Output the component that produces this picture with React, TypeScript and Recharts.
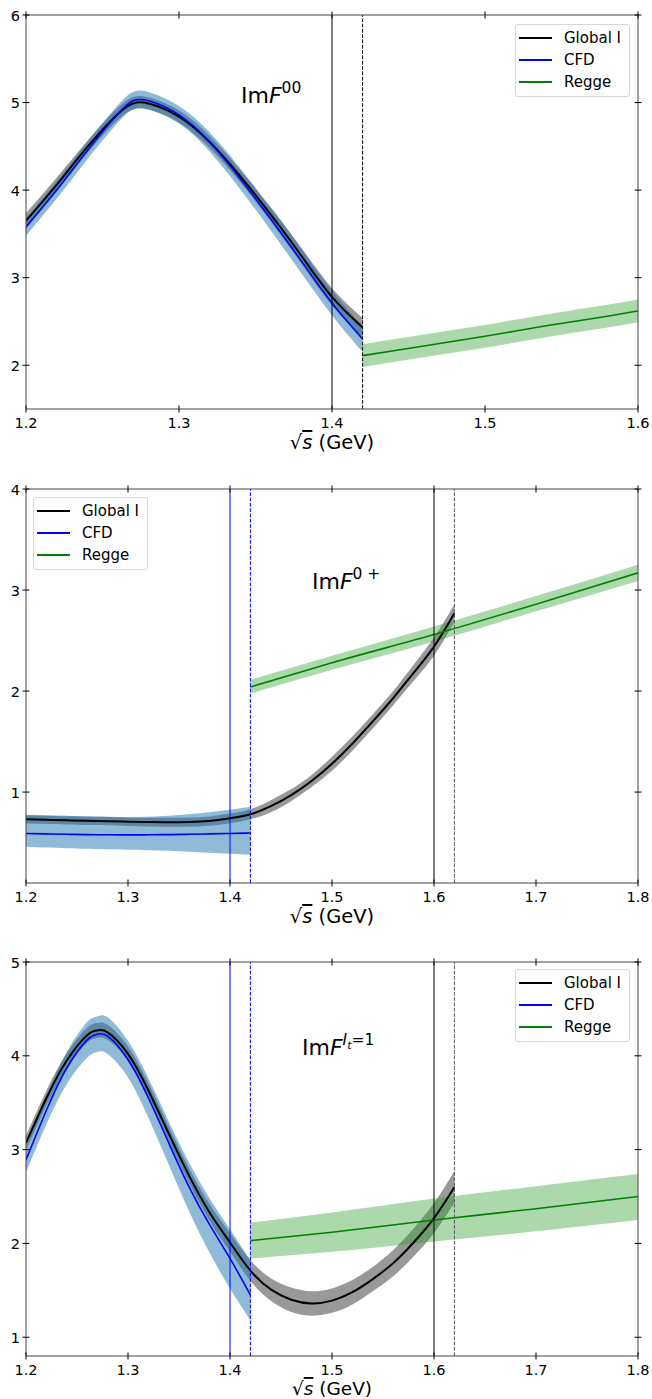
import React from "react";
import { ComposedChart, Area, Line, XAxis, YAxis, ReferenceLine, Legend } from "recharts";

// x grids (GeV)
const X_CFD = [1.2, 1.22, 1.24, 1.26, 1.27, 1.28, 1.3, 1.32, 1.34, 1.36, 1.38, 1.4, 1.42];
const X_GLOBAL = [...X_CFD, 1.44, 1.46, 1.48, 1.5, 1.52, 1.54, 1.56, 1.58, 1.6, 1.62];
const X_REGGE_00 = [1.42, 1.46, 1.5, 1.54, 1.58, 1.6];
const X_REGGE = [1.42, 1.5, 1.6, 1.7, 1.8];

// Im F^00
const F00_GLOBAL = [3.65, 4.06, 4.49, 4.87, 4.99, 4.99, 4.84, 4.55, 4.16, 3.72, 3.25, 2.78, 2.43];
const F00_GLOBAL_LO = [3.56, 3.98, 4.42, 4.8, 4.92, 4.92, 4.77, 4.48, 4.09, 3.64, 3.16, 2.68, 2.32];
const F00_GLOBAL_HI = [3.74, 4.14, 4.56, 4.94, 5.06, 5.06, 4.91, 4.62, 4.23, 3.8, 3.34, 2.88, 2.54];
const F00_CFD = [3.58, 4.0, 4.45, 4.87, 5.02, 5.02, 4.86, 4.55, 4.13, 3.67, 3.19, 2.71, 2.3];
const F00_CFD_LO = [3.48, 3.9, 4.35, 4.77, 4.92, 4.92, 4.76, 4.44, 4.01, 3.54, 3.05, 2.57, 2.15];
const F00_CFD_HI = [3.68, 4.1, 4.55, 4.97, 5.12, 5.12, 4.96, 4.66, 4.25, 3.8, 3.33, 2.85, 2.45];
const F00_REGGE = [2.11, 2.22, 2.33, 2.45, 2.56, 2.62];
const F00_REGGE_LO = [1.98, 2.09, 2.2, 2.32, 2.43, 2.49];
const F00_REGGE_HI = [2.24, 2.35, 2.46, 2.58, 2.69, 2.75];

// Im F^0+
const F0P_GLOBAL = [0.73, 0.725, 0.72, 0.716, 0.714, 0.712, 0.707, 0.703, 0.701, 0.703, 0.713, 0.74, 0.78, 0.86, 0.97, 1.11, 1.28, 1.48, 1.7, 1.93, 2.18, 2.44, 2.77];
const F0P_GLOBAL_LO = [0.69, 0.685, 0.68, 0.675, 0.673, 0.671, 0.665, 0.66, 0.657, 0.658, 0.667, 0.692, 0.73, 0.8, 0.91, 1.05, 1.21, 1.41, 1.63, 1.86, 2.1, 2.35, 2.68];
const F0P_GLOBAL_HI = [0.77, 0.765, 0.76, 0.757, 0.755, 0.753, 0.749, 0.746, 0.745, 0.748, 0.759, 0.788, 0.83, 0.92, 1.03, 1.17, 1.35, 1.55, 1.77, 2.0, 2.26, 2.53, 2.86];
const F0P_CFD = [0.59, 0.586, 0.582, 0.579, 0.578, 0.577, 0.576, 0.577, 0.579, 0.582, 0.586, 0.59, 0.595];
const F0P_CFD_LO = [0.46, 0.452, 0.445, 0.44, 0.437, 0.435, 0.43, 0.425, 0.418, 0.41, 0.4, 0.39, 0.38];
const F0P_CFD_HI = [0.775, 0.77, 0.765, 0.76, 0.758, 0.756, 0.752, 0.755, 0.765, 0.78, 0.8, 0.825, 0.855];
const F0P_REGGE = [2.04, 2.28, 2.56, 2.86, 3.17];
const F0P_REGGE_LO = [1.975, 2.21, 2.49, 2.79, 3.09];
const F0P_REGGE_HI = [2.11, 2.35, 2.64, 2.94, 3.25];

// Im F^{I_t=1}
const FIT_GLOBAL = [3.07, 3.55, 3.95, 4.22, 4.27, 4.25, 4.02, 3.63, 3.17, 2.72, 2.33, 2.01, 1.71, 1.51, 1.4, 1.36, 1.39, 1.48, 1.62, 1.79, 2.01, 2.27, 2.6];
const FIT_GLOBAL_LO = [2.99, 3.47, 3.87, 4.14, 4.19, 4.17, 3.94, 3.55, 3.09, 2.64, 2.24, 1.91, 1.6, 1.39, 1.27, 1.23, 1.26, 1.35, 1.49, 1.65, 1.86, 2.11, 2.43];
const FIT_GLOBAL_HI = [3.15, 3.63, 4.03, 4.3, 4.35, 4.33, 4.1, 3.71, 3.25, 2.8, 2.42, 2.11, 1.82, 1.63, 1.53, 1.49, 1.52, 1.61, 1.75, 1.93, 2.16, 2.43, 2.77];
const FIT_CFD = [2.89, 3.42, 3.87, 4.17, 4.23, 4.21, 3.96, 3.55, 3.07, 2.6, 2.2, 1.84, 1.45];
const FIT_CFD_LO = [2.76, 3.27, 3.7, 3.98, 4.04, 4.02, 3.77, 3.34, 2.84, 2.34, 1.9, 1.52, 1.18];
const FIT_CFD_HI = [3.03, 3.57, 4.04, 4.36, 4.42, 4.41, 4.16, 3.76, 3.3, 2.86, 2.48, 2.15, 1.82];
const FIT_REGGE = [2.03, 2.12, 2.25, 2.37, 2.5];
const FIT_REGGE_LO = [1.84, 1.91, 2.02, 2.13, 2.25];
const FIT_REGGE_HI = [2.22, 2.33, 2.48, 2.61, 2.74];

// axis ticks
const X_TICKS_00 = [1.2, 1.3, 1.4, 1.5, 1.6];
const X_TICKS = [1.2, 1.3, 1.4, 1.5, 1.6, 1.7, 1.8];
const Y_TICKS_00 = [2, 3, 4, 5, 6];
const Y_TICKS_0P = [1, 2, 3, 4];
const Y_TICKS_IT = [1, 2, 3, 4, 5];

// matching points: CFD end, Global I end (solid = 1.4/1.6, dashed = 1.42/1.62)
const CFD_MATCH = [1.4, 1.42];
const GLOBAL_MATCH = [1.6, 1.62];

const LEGEND_ITEMS = [
  { name: "Global I", color: "#000000" },
  { name: "CFD", color: "#0000ff" },
  { name: "Regge", color: "#008000" },
];

const FONT = "'DejaVu Sans', sans-serif";

const rows = (xs: number[], mid: number[], lo: number[], hi: number[]) =>
  xs.map((x, i) => ({ x, mid: mid[i], band: [lo[i], hi[i]] }));

const fmt = (v: number) => (Number.isInteger(v) ? String(v) : v.toFixed(1));

const BottomTick = (p: any) => (
  <g>
    <line x1={p.x} x2={p.x} y1={p.y - 3.5} y2={p.y + 3.5} stroke="#000" />
    <text x={p.x} y={p.y + 18.5} textAnchor="middle" fontSize={14.5} fontFamily={FONT} fill="#000">
      {fmt(p.payload.value)}
    </text>
  </g>
);
const TopTick = (p: any) => <line x1={p.x} x2={p.x} y1={p.y - 3.5} y2={p.y + 3.5} stroke="#000" />;
const LeftTick = (p: any) => (
  <g>
    <line x1={p.x - 3.5} x2={p.x + 3.5} y1={p.y} y2={p.y} stroke="#000" />
    <text x={p.x - 6} y={p.y + 5.5} textAnchor="end" fontSize={14.5} fontFamily={FONT} fill="#000">
      {fmt(p.payload.value)}
    </text>
  </g>
);
const RightTick = (p: any) => <line x1={p.x - 3.5} x2={p.x + 3.5} y1={p.y} y2={p.y} stroke="#000" />;

function LegendBox() {
  return (
    <div
      style={{
        width: 115,
        height: 73,
        boxSizing: "border-box",
        border: "1px solid #d6d6d6",
        borderRadius: 3,
        background: "rgba(255,255,255,0.8)",
        fontFamily: FONT,
        fontSize: 15,
        paddingTop: 2,
      }}
    >
      {LEGEND_ITEMS.map((it) => (
        <div key={it.name} style={{ display: "flex", alignItems: "center", height: 22 }}>
          <svg width={44} height={10} style={{ marginLeft: 3 }}>
            <line x1={0} x2={33} y1={5} y2={5} stroke={it.color} strokeWidth={2} />
          </svg>
          <span style={{ marginLeft: 1 }}>{it.name}</span>
        </div>
      ))}
    </div>
  );
}

const W = 652;
const H = 459;

function Panel(props: {
  top: number;
  xDomain: [number, number];
  xTicks: number[];
  yDomain: [number, number];
  yTicks: number[];
  global: any[];
  cfd: any[];
  regge: any[];
  wideMatch: boolean;
  legend: { left: number; top: number };
  labelY: number;
  labelSize: number;
  title: React.ReactNode;
}) {
  const { xDomain, xTicks, yDomain, yTicks } = props;
  return (
    <div style={{ position: "absolute", left: 0, top: props.top, width: W, height: H }}>
      <ComposedChart width={W} height={H} margin={{ top: 14, right: 13, bottom: 0, left: 0 }}>
        <XAxis
          dataKey="x"
          type="number"
          domain={xDomain}
          ticks={xTicks}
          allowDataOverflow
          height={50}
          tickSize={0}
          tickMargin={0}
          tick={<BottomTick />}
          axisLine={{ stroke: "#444" }}
        />
        <XAxis
          xAxisId="t"
          dataKey="x"
          type="number"
          orientation="top"
          domain={xDomain}
          ticks={xTicks}
          allowDataOverflow
          height={1}
          tickSize={0}
          tickMargin={0}
          tick={<TopTick />}
          axisLine={{ stroke: "#444" }}
        />
        <YAxis
          type="number"
          domain={yDomain}
          ticks={yTicks}
          allowDataOverflow
          width={26}
          tickSize={0}
          tickMargin={0}
          tick={<LeftTick />}
          axisLine={{ stroke: "#444" }}
        />
        <YAxis
          yAxisId="r"
          type="number"
          orientation="right"
          domain={yDomain}
          ticks={yTicks}
          allowDataOverflow
          width={1}
          tickSize={0}
          tickMargin={0}
          tick={<RightTick />}
          axisLine={{ stroke: "#444" }}
        />

        <Area data={props.global} dataKey="band" type="natural" stroke="none" fill="#000000" fillOpacity={0.4} isAnimationActive={false} />
        <Area data={props.cfd} dataKey="band" type="natural" stroke="none" fill="#1f77b4" fillOpacity={0.5} isAnimationActive={false} />
        <Area data={props.regge} dataKey="band" type="monotone" stroke="none" fill="#2ca02c" fillOpacity={0.4} isAnimationActive={false} />

        <Line data={props.global} dataKey="mid" type="natural" stroke="#000000" strokeWidth={2} dot={false} isAnimationActive={false} />
        <Line data={props.cfd} dataKey="mid" type="natural" stroke="#0000ff" strokeWidth={1.6} dot={false} isAnimationActive={false} />
        <Line data={props.regge} dataKey="mid" type="monotone" stroke="#008000" strokeWidth={1.6} dot={false} isAnimationActive={false} />

        <ReferenceLine x={CFD_MATCH[0]} stroke={props.wideMatch ? "#0000ff" : "#000"} strokeWidth={1} />
        <ReferenceLine x={CFD_MATCH[1]} stroke={props.wideMatch ? "#0000ff" : "#000"} strokeWidth={1} strokeDasharray="3.7 1.6" />
        {props.wideMatch && <ReferenceLine x={GLOBAL_MATCH[0]} stroke="#000" strokeWidth={1} />}
        {props.wideMatch && (
          <ReferenceLine x={GLOBAL_MATCH[1]} stroke="#555" strokeWidth={1} strokeDasharray="3.7 1.6" />
        )}

        <Legend
          layout="vertical"
          align="center"
          verticalAlign="middle"
          wrapperStyle={{ left: props.legend.left, top: props.legend.top, width: 117 }}
          content={() => <LegendBox />}
        />
      </ComposedChart>
      <svg
        width={W}
        height={H}
        style={{ position: "absolute", left: 0, top: 0, pointerEvents: "none", overflow: "visible" }}
      >
        {props.title}
        <text x={332} y={props.labelY} textAnchor="middle" fontSize={props.labelSize} fontFamily={FONT} fill="#000">
          √<tspan fontStyle="italic" textDecoration="overline">s</tspan> (GeV)
        </text>
      </svg>
    </div>
  );
}

const titleStyle = { fontSize: 22, fontFamily: FONT, fill: "#000" };

export default function App() {
  return (
    <div style={{ position: "absolute", left: 0, top: 0, width: W, height: 1399, overflow: "hidden", background: "#fff" }}>
      <Panel
        top={0}
        xDomain={[1.2, 1.6]}
        xTicks={X_TICKS_00}
        yDomain={[1.5, 6]}
        yTicks={Y_TICKS_00}
        global={rows(X_CFD, F00_GLOBAL, F00_GLOBAL_LO, F00_GLOBAL_HI)}
        cfd={rows(X_CFD, F00_CFD, F00_CFD_LO, F00_CFD_HI)}
        regge={rows(X_REGGE_00, F00_REGGE, F00_REGGE_LO, F00_REGGE_HI)}
        wideMatch={false}
        legend={{ left: 515, top: 24 }}
        labelY={449}
        labelSize={19.5}
        title={
          <text x={241} y={103} style={titleStyle}>
            Im<tspan fontStyle="italic">F</tspan>
            <tspan dy={-10} fontSize={15.5}>00</tspan>
          </text>
        }
      />
      <Panel
        top={474}
        xDomain={[1.2, 1.8]}
        xTicks={X_TICKS}
        yDomain={[0.1, 4]}
        yTicks={Y_TICKS_0P}
        global={rows(X_GLOBAL, F0P_GLOBAL, F0P_GLOBAL_LO, F0P_GLOBAL_HI)}
        cfd={rows(X_CFD, F0P_CFD, F0P_CFD_LO, F0P_CFD_HI)}
        regge={rows(X_REGGE, F0P_REGGE, F0P_REGGE_LO, F0P_REGGE_HI)}
        wideMatch={true}
        legend={{ left: 33, top: 23 }}
        labelY={449}
        labelSize={19.5}
        title={
          <text x={312} y={115} style={titleStyle}>
            Im<tspan fontStyle="italic">F</tspan>
            <tspan dy={-10} fontSize={15.5}>0 +</tspan>
          </text>
        }
      />
      <Panel
        top={947}
        xDomain={[1.2, 1.8]}
        xTicks={X_TICKS}
        yDomain={[0.8, 5]}
        yTicks={Y_TICKS_IT}
        global={rows(X_GLOBAL, FIT_GLOBAL, FIT_GLOBAL_LO, FIT_GLOBAL_HI)}
        cfd={rows(X_CFD, FIT_CFD, FIT_CFD_LO, FIT_CFD_HI)}
        regge={rows(X_REGGE, FIT_REGGE, FIT_REGGE_LO, FIT_REGGE_HI)}
        wideMatch={true}
        legend={{ left: 515, top: 22 }}
        labelY={448}
        labelSize={18.5}
        title={
          <text x={302} y={108} style={titleStyle}>
            Im<tspan fontStyle="italic">F</tspan>
            <tspan dy={-10} fontSize={15.5} fontStyle="italic">I</tspan>
            <tspan dy={4} fontSize={11} fontStyle="italic">t</tspan>
            <tspan dy={-4} fontSize={15.5}>=1</tspan>
          </text>
        }
      />
    </div>
  );
}
